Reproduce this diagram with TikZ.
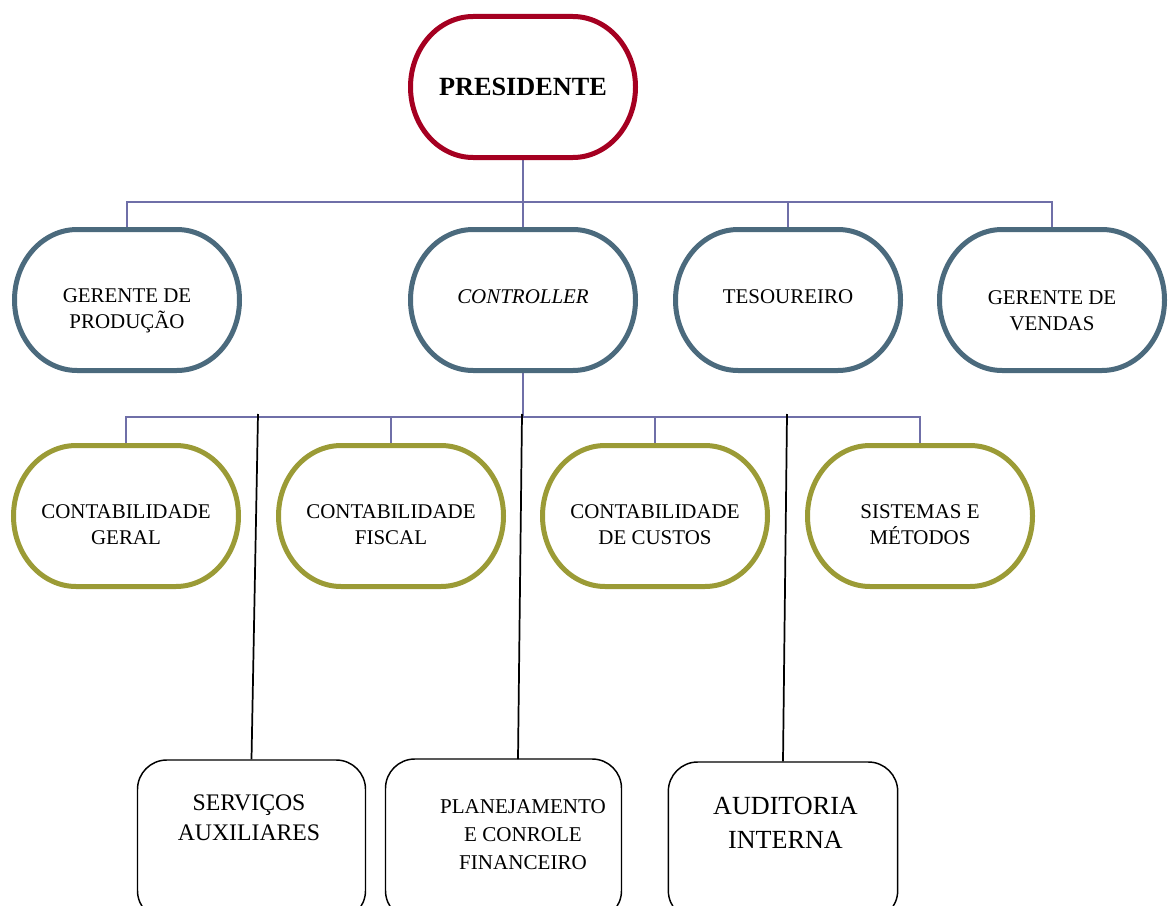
\documentclass[tikz,border=0pt]{standalone}
\usepackage{fontspec}
\setmainfont{Liberation Serif}
\definecolor{presred}{HTML}{A50021}
\definecolor{slate}{HTML}{4B6A7D}
\definecolor{olive}{HTML}{9B9B36}
\definecolor{connc}{HTML}{6F6FA8}
\newcommand\drawstadium[2]{%
  \draw[line width=3.75pt, draw=#2, fill=white]
    ([xshift=47pt]#1.north west) -- ([xshift=-47pt]#1.north east)
    arc[start angle=90, end angle=-90, x radius=47pt, y radius=52.875pt]
    -- ([xshift=47pt]#1.south west)
    arc[start angle=270, end angle=90, x radius=47pt, y radius=52.875pt]
    -- cycle;}
\begin{document}
\begin{tikzpicture}[x=0.75pt,y=-0.75pt,
  bigbox/.style={rectangle, minimum width=168.75pt, minimum height=105.75pt,
    inner sep=0pt, outer sep=0pt},
  lowbox/.style={rectangle, rounded corners=22pt, line width=1.1pt, draw=black,
    fill=white, inner sep=0pt},
  conn/.style={draw=connc, line width=1.1pt},
  blk/.style={draw=black, line width=1.3pt},
  txt/.style={align=center, inner sep=0pt, font=\fontsize{15.7}{19.5}\selectfont},
]
\useasboundingbox (0,0) rectangle (1174,906);
\clip (0,0) rectangle (1174,906);

% junction points and free ends
\coordinate (j1) at (523,202);
\coordinate (j2) at (523,417);
\coordinate (s1) at (258,414);
\coordinate (s2) at (522,414);
\coordinate (s3) at (787,414);
\coordinate (s2b) at (518,759);

% box frames (named)
\node[bigbox] (pres) at (523,87)  {};
\node[bigbox] (prod) at (127,300) {};
\node[bigbox] (ctrl) at (523,300) {};
\node[bigbox] (tes)  at (788,300) {};
\node[bigbox] (vend) at (1052,300) {};
\node[bigbox] (geral) at (126,516) {};
\node[bigbox] (fisc)  at (391,516) {};
\node[bigbox] (cust)  at (655,516) {};
\node[bigbox] (sist)  at (920,516) {};

% connectors
\draw[conn] (pres.south) -- (j1);
\draw[conn] (prod.north) |- (j1) -| (vend.north);
\draw[conn] (j1) -- (ctrl.north);
\draw[conn] (j1) -| (tes.north);
\draw[conn] (ctrl.south) -- (j2);
\draw[conn] (geral.north) |- (j2) -| (sist.north);
\draw[conn] (j2) -| (fisc.north);
\draw[conn] (j2) -| (cust.north);

% stadium outlines
\drawstadium{pres}{presred}
\drawstadium{prod}{slate}
\drawstadium{ctrl}{slate}
\drawstadium{tes}{slate}
\drawstadium{vend}{slate}
\drawstadium{geral}{olive}
\drawstadium{fisc}{olive}
\drawstadium{cust}{olive}
\drawstadium{sist}{olive}

% lower boxes
\node[lowbox, minimum width=171pt, minimum height=120pt] (serv) at (251.5,840) {};
\node[lowbox, minimum width=177pt, minimum height=120.75pt] (plan) at (503.5,839.5) {};
\node[lowbox, minimum width=172pt, minimum height=118.5pt] (aud)  at (783,841) {};
\draw[blk] (s1) -- (serv.north);
\draw[blk] (s2) -- (s2b);
\draw[blk] (s3) -- (aud.north);

% texts
\node[txt, font=\fontsize{19.7}{24}\selectfont\bfseries] (prest) at (523,87) {PRESIDENTE};
\node[txt] (prodt) at (127,311) {GERENTE DE\\PRODUÇÃO};
\node[txt] (ctrlt) at (523,297) {\itshape CONTROLLER};
\node[txt] (test)  at (788,297) {TESOUREIRO};
\node[txt] (vendt) at (1052,311) {GERENTE DE\\VENDAS};
\node[txt] (geralt) at (126,525) {CONTABILIDADE\\GERAL};
\node[txt] (fisct)  at (391,525) {CONTABILIDADE\\FISCAL};
\node[txt] (custt)  at (655,525) {CONTABILIDADE\\DE CUSTOS};
\node[txt] (sistt)  at (920,525) {SISTEMAS E\\MÉTODOS};
\node[txt, font=\fontsize{17.8}{22.5}\selectfont] (servt) at (249,818) {SERVIÇOS\\AUXILIARES};
\node[txt, font=\fontsize{15.8}{21}\selectfont] (plant) at (523,835) {PLANEJAMENTO\\E CONROLE\\FINANCEIRO};
\node[txt, font=\fontsize{19.6}{25.5}\selectfont] (audt) at (785.5,823) {AUDITORIA\\INTERNA};
\end{tikzpicture}
\end{document}
